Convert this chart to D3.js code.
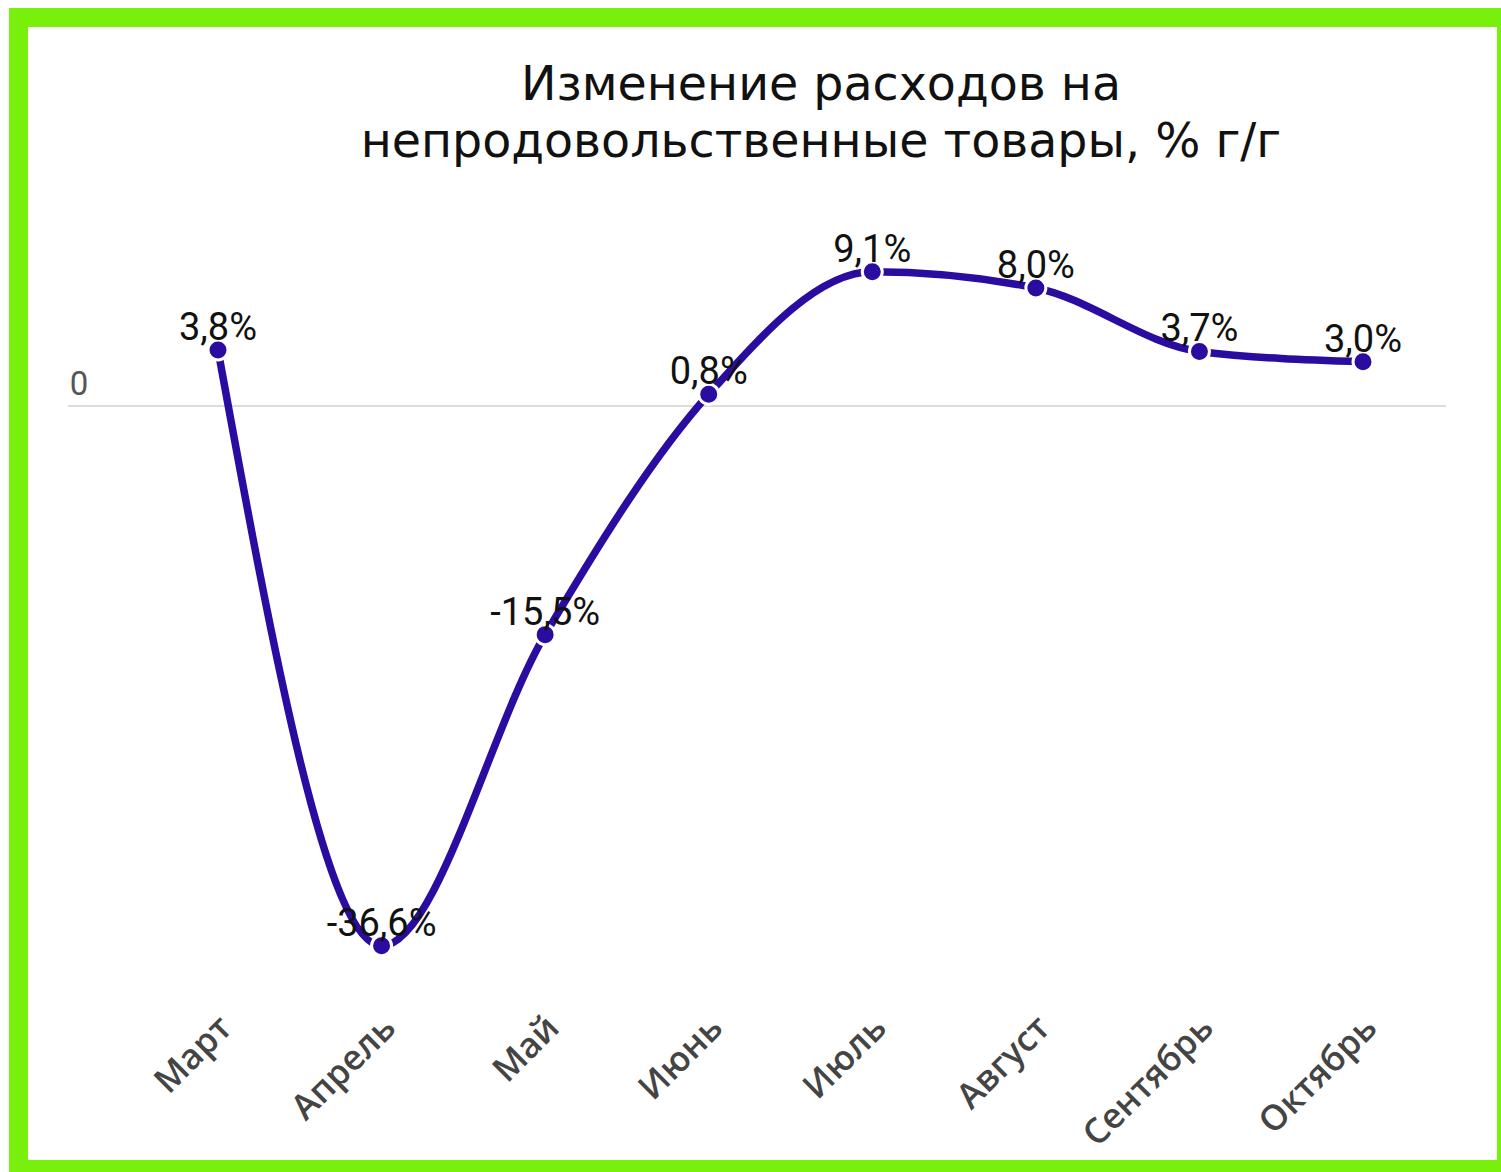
<!DOCTYPE html>
<html>
<head>
<meta charset="utf-8">
<script src="https://cdn.jsdelivr.net/npm/d3@7"></script>
<style>
  body { margin: 0; background: #fff; }
</style>
</head>
<body>
<div id="chart"></div>
<script>
// chart data
const months = ["Март", "Апрель", "Май", "Июнь", "Июль", "Август", "Сентябрь", "Октябрь"];
const values = [3.8, -36.6, -15.5, 0.8, 9.1, 8.0, 3.7, 3.0];
const labels = ["3,8%", "-36,6%", "-15,5%", "0,8%", "9,1%", "8,0%", "3,7%", "3,0%"];
const titleLines = ["Изменение расходов на", "непродовольственные товары, % г/г"];

const W = 1501, H = 1172;
const lineColor = "#2a0ca0";

const svg = d3.select("#chart").append("svg")
  .attr("width", W)
  .attr("height", H);

// white background + green frame
svg.append("rect")
  .attr("x", 18.5).attr("y", 17.5)
  .attr("width", 1488).attr("height", 1152)
  .attr("fill", "#fff")
  .attr("stroke", "#79f00c")
  .attr("stroke-width", 19);

// title
svg.append("text")
  .attr("x", 821)
  .attr("y", 100)
  .attr("text-anchor", "middle")
  .style("font-family", "'DejaVu Sans', Verdana, sans-serif")
  .style("font-size", "47.5px")
  .style("fill", "#111")
  .selectAll("tspan")
  .data(titleLines)
  .enter()
  .append("tspan")
  .attr("x", 821)
  .attr("dy", (d, i) => i === 0 ? 0 : 57)
  .text(d => d);

// scales
const x = d3.scalePoint()
  .domain(months)
  .range([218, 1363]);

const y = d3.scaleLinear()
  .domain([-40, 12])
  .range([996, 229]);

// zero line
svg.append("line")
  .attr("x1", 68).attr("x2", 1446)
  .attr("y1", y(0)).attr("y2", y(0))
  .attr("stroke", "#dcdcdc")
  .attr("stroke-width", 2);

svg.append("text")
  .attr("x", 79)
  .attr("y", y(0) - 11)
  .attr("text-anchor", "middle")
  .style("font-family", "Roboto, sans-serif")
  .style("font-size", "33px")
  .style("fill", "#555")
  .text("0");

// line
const line = d3.line()
  .x((d, i) => x(months[i]))
  .y(d => y(d))
  .curve(d3.curveMonotoneX);

svg.append("path")
  .datum(values)
  .attr("d", line)
  .attr("fill", "none")
  .attr("stroke", lineColor)
  .attr("stroke-width", 7.5)
  .attr("stroke-linejoin", "round");

// points
svg.selectAll(".dot")
  .data(values)
  .enter()
  .append("circle")
  .attr("class", "dot")
  .attr("cx", (d, i) => x(months[i]))
  .attr("cy", d => y(d))
  .attr("r", 10)
  .attr("fill", lineColor)
  .attr("stroke", "#fff")
  .attr("stroke-width", 3);

// data labels
svg.selectAll(".lbl")
  .data(values)
  .enter()
  .append("text")
  .attr("class", "lbl")
  .attr("x", (d, i) => x(months[i]))
  .attr("y", d => y(d) - 10)
  .attr("text-anchor", "middle")
  .style("font-family", "Roboto, sans-serif")
  .style("font-size", "38px")
  .style("fill", "#111")
  .text((d, i) => labels[i]);

// month labels, rotated
svg.selectAll(".month")
  .data(months)
  .enter()
  .append("text")
  .attr("class", "month")
  .attr("text-anchor", "end")
  .attr("transform", d => `translate(${x(d) + 16},${1030}) rotate(-45)`)
  .style("font-family", "'Open Sans', sans-serif")
  .style("font-size", "35px")
  .style("font-weight", 600)
  .style("fill", "#444")
  .text(d => d);
</script>
</body>
</html>
